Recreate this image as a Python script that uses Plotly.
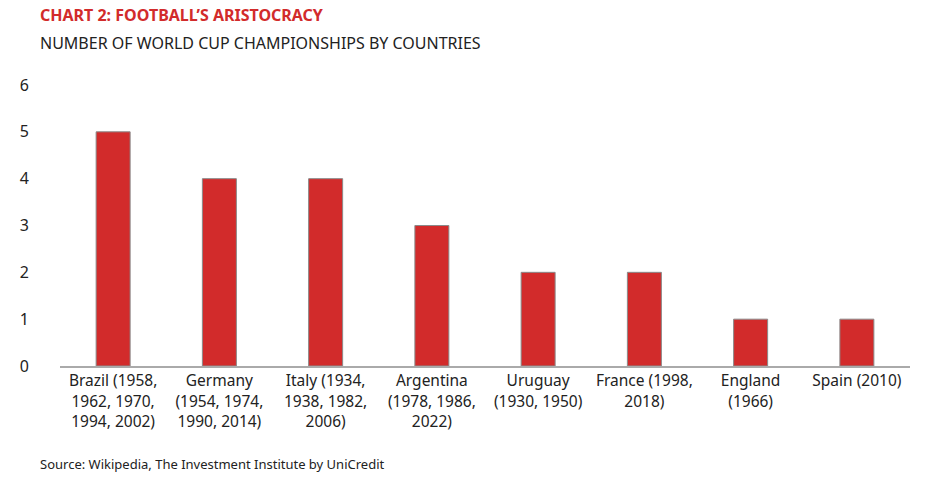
import plotly.graph_objects as go

categories = [
    "Brazil (1958,<br>1962, 1970,<br>1994, 2002)",
    "Germany<br>(1954, 1974,<br>1990, 2014)",
    "Italy (1934,<br>1938, 1982,<br>2006)",
    "Argentina<br>(1978, 1986,<br>2022)",
    "Uruguay<br>(1930, 1950)",
    "France (1998,<br>2018)",
    "England<br>(1966)",
    "Spain (2010)",
]
titles = [5, 4, 4, 3, 2, 2, 1, 1]

fig = go.Figure()
fig.add_trace(go.Bar(
    x=categories, y=titles,
    marker=dict(color="#d22b2b", line=dict(color="#8a8a8a", width=1)),
))

fig.update_layout(
    width=948, height=493,
    margin=dict(l=49, r=46, t=77, b=135),
    plot_bgcolor="white", paper_bgcolor="white",
    font=dict(family="Noto Sans", size=15, color="#222"),
    bargap=0.68,
    showlegend=False,
)
fig.update_yaxes(range=[0, 6], dtick=1, showgrid=False, zeroline=False,
                 ticks="", ticklabelstandoff=30, tickfont=dict(size=16))
fig.update_xaxes(showline=True, linecolor="#aaaaaa", linewidth=1.5, ticks="",
                 tickangle=0, tickfont=dict(size=15.5))

fig.add_annotation(text="<b>CHART 2: FOOTBALL’S ARISTOCRACY</b>", xref="paper", yref="paper",
                   x=-0.026, y=1.295, xanchor="left", yanchor="top", showarrow=False,
                   font=dict(size=16, color="#d22b2b"))
fig.add_annotation(text="NUMBER OF WORLD CUP CHAMPIONSHIPS BY COUNTRIES", xref="paper", yref="paper",
                   x=-0.026, y=1.195, xanchor="left", yanchor="top", showarrow=False,
                   font=dict(size=16, color="#222"))
fig.add_annotation(text="Source: Wikipedia, The Investment Institute by UniCredit", xref="paper", yref="paper",
                   x=-0.026, y=-0.31, xanchor="left", yanchor="top", showarrow=False,
                   font=dict(size=13, color="#222"))

fig.write_html("out.html")
